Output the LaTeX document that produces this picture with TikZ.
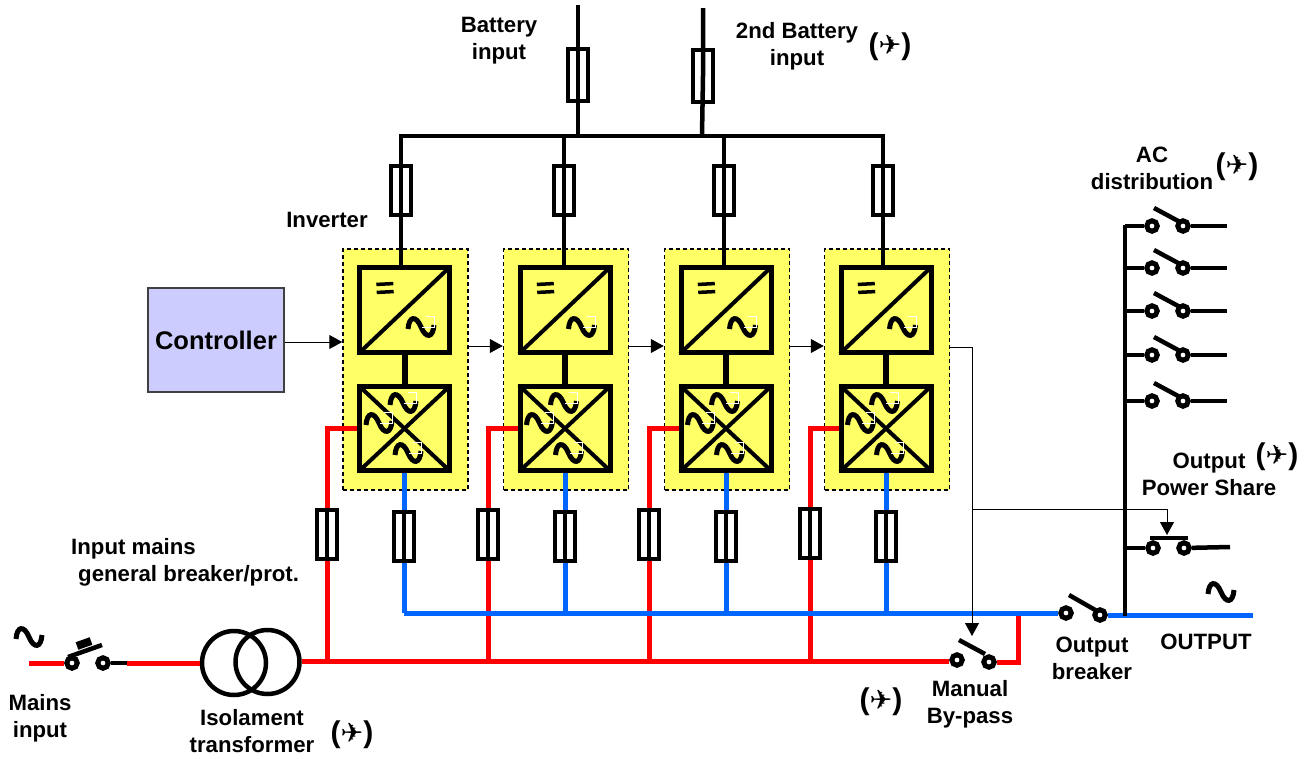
\documentclass[tikz,border=0pt]{standalone}
\usepackage{fontspec}
\setmainfont{Liberation Sans}
\newfontfamily\planefont{DejaVu Sans}
\usetikzlibrary{arrows.meta}
\definecolor{invyellow}{HTML}{FFFF66}
\definecolor{ctrlblue}{HTML}{CCCCFF}
\definecolor{busred}{HTML}{FF0000}
\definecolor{busblue}{HTML}{0066FF}
\newcommand{\planemark}{{\fontsize{30}{30}\selectfont\bfseries(}{\planefont\fontsize{27}{27}\selectfont ✈}{\fontsize{30}{30}\selectfont\bfseries)}}
\tikzset{
  label/.style={font=\fontsize{22.2}{27}\selectfont\bfseries,align=center,inner sep=0pt},
  invbox/.style={draw=black,fill=invyellow,line width=1.5pt,dash pattern=on 4pt off 3pt,minimum width=125pt,minimum height=241pt,inner sep=0pt},
  module/.style={draw=black,line width=5pt,minimum width=90pt,inner sep=0pt},
  fuse/.style={draw=black,line width=4pt,minimum width=20pt,minimum height=49pt,inner sep=0pt},
  contact/.style={circle,draw=black,fill=white,line width=5pt,minimum size=10.5pt,inner sep=0pt},
  wire/.style={line width=4.5pt,color=black},
  redwire/.style={line width=5pt,color=busred},
  bluewire/.style={line width=5pt,color=busblue},
  blade/.style={line width=4.5pt,color=black},
  ctl/.style={line width=1pt,color=black,-{Triangle[length=13pt,width=14pt]}},
  pics/tilde/.style={code={
    \draw[line width=5pt] (-13,2) .. controls (-12,-11) and (-5,-12) .. (0,0) .. controls (5,12) and (12,11) .. (13,-2);
  }},
  pics/inktilde/.style={code={
    \draw[line width=5pt] (-13,2) .. controls (-12,-11) and (-5,-12) .. (0,0) .. controls (5,12) and (12,11) .. (13,-2);
    \draw[white,line width=1pt] (5,-10.5) -- (13.5,-10.5) -- (13.5,0) -- (1,0);
  }}
}
\begin{document}
\begin{tikzpicture}[line join=miter,x=1pt,y=-1pt]
    \useasboundingbox (0,0) rectangle (1307,758);
    \coordinate (redbus) at (0,661);
    \coordinate (bluebus) at (0,613);
    \coordinate (topbus) at (0,136);
    \coordinate (ctlline) at (0,346);
    \coordinate (topl) at (399,136);
    \coordinate (topr) at (885,136);
    \foreach \i/\mx/\dx/\rx/\bx/\fy in {1/404.5/401/327/403/534,2/565/564/488/564/534,3/726/724/649/725/534,4/886/883/810/885/533}
    {
      \node[invbox] (inv\i) at (\mx+1,369.5) {};
      \node[fuse] (tf\i) at (\dx,190) {};
      \node[fuse] (rf\i) at (\rx,\fy) {};
      \node[fuse] (bf\i) at (\bx+1,536) {};
      \coordinate (rtap\i) at (\rx,661);
      \coordinate (btap\i) at (\bx+1,613);
      \coordinate (dtap\i) at (\dx,136);
      \node[module,minimum height=85pt] (up\i) at (\mx,310) {};
      \node[module,minimum height=84pt] (low\i) at (\mx,428.5) {};
      \draw[wire] (dtap\i) -- (tf\i.center) -- (tf\i.center |- up\i.north);
      \draw[line width=6pt] (up\i.south) -- (low\i.north);
      \draw[redwire] (rtap\i) -- (rf\i.south);
      \draw[redwire] (rf\i.north) -- (rf\i.center |- low\i.west) -- (low\i.west);
      \draw[wire] (rf\i.north) -- (rf\i.south);
      \draw[bluewire] (bf\i.center |- low\i.south) -- (bf\i.north);
      \draw[bluewire] (bf\i.south) -- (btap\i);
      \draw[wire] (bf\i.north) -- (bf\i.south);
      \draw[line width=4pt,shorten >=2pt,shorten <=2pt] (up\i.north east) -- (up\i.south west);
      \draw[line width=4pt,shorten >=2pt,shorten <=2pt] (low\i.north east) -- (low\i.south west);
      \draw[line width=4pt,shorten >=2pt,shorten <=2pt] (low\i.north west) -- (low\i.south east);
      \draw[line width=3.5pt,rotate around={3:(\mx-19.5,288)}] (\mx-28,284) -- (\mx-11,284) (\mx-28,292) -- (\mx-11,292);
      \pic at (\mx+16.5,327) {inktilde};
      \pic at (\mx-1.5,403) {inktilde};
      \pic at (\mx-25.5,423) {inktilde};
      \pic at (\mx+3.5,453) {inktilde};
    }
    \draw[wire] (topl) -- (topr);
    \coordinate (bata) at (578,5);
    \coordinate (batb) at (703,8);
    \node[fuse,minimum height=52pt] (baf) at (578,75) {};
    \node[fuse,minimum height=52pt] (bbf) at (703,76) {};
    \draw[wire] (bata) -- (baf.center) -- (578,136);
    \draw[wire] (batb) -- (bbf.center) -- (702,136);
    \node[draw=black!75,fill=ctrlblue,line width=1.5pt,minimum width=136pt,minimum height=104pt,inner sep=0pt,font=\fontsize{25.5}{30}\selectfont\bfseries] (ctrl) at (216,340) {Controller};
    \draw[ctl] (ctrl.east |- 0,342) -- (inv1.west |- 0,342);
    \draw[ctl] (inv1.east |- ctlline) -- (inv2.west |- ctlline);
    \draw[ctl] (inv2.east |- ctlline) -- (inv3.west |- ctlline);
    \draw[ctl] (inv3.east |- ctlline) -- (inv4.west |- ctlline);
    \coordinate (mainin) at (29,663);
    \node[contact] (mil) at (72,663) {};
    \node[contact] (mir) at (103,663) {};
    \coordinate (mist) at (127,663);
    \node[circle,draw=black,line width=4.5pt,minimum size=64pt,inner sep=0pt] (trl) at (234,663) {};
    \node[circle,draw=black,line width=4.5pt,minimum size=64pt,inner sep=0pt] (trr) at (267.5,662) {};
    \draw[redwire] (mainin) -- (mil);
    \draw[wire] (mir) -- (mist);
    \draw[redwire] (mist) -- (trl.west);
    \draw[blade] (68,657) -- (102,645);
    \draw[line width=8pt] (77,646) -- (91,641);
    \node[contact] (byl) at (957,660) {};
    \node[contact] (byr) at (989,662) {};
    \coordinate (bycorner) at (1018,662);
    \coordinate (bytop) at (1018,613);
    \draw[redwire] (trr.east |- redbus) -- (byl.west |- redbus);
    \draw[redwire] (byr) -- (bycorner) -- (bytop);
    \draw[blade] (959,640) -- (985,654);
    \node[contact] (obl) at (1066,613) {};
    \node[contact] (obr) at (1100,615) {};
    \coordinate (outend) at (1253,615);
    \draw[bluewire] (btap1) -- (obl);
    \draw[bluewire] (obr) -- (outend);
    \draw[blade] (1069,595) -- (1097,611);
    \coordinate (actop) at (1125,225);
    \coordinate (acbot) at (1125,616);
    \draw[wire] (actop) -- (acbot);
    \foreach \i/\y in {1/226,2/268,3/311,4/355,5/401}
    {
      \coordinate (ac\i) at (1227,\y);
      \coordinate (acb\i) at (1125,\y);
      \node[contact] (acl\i) at (1152,\y) {};
      \node[contact] (acr\i) at (1183,\y) {};
      \draw[wire] (acb\i) -- (acl\i);
      \draw[wire] (acr\i) -- (ac\i);
      \draw[blade] (1154,\y-18) -- (1180,\y-4);
    }
    \node[contact] (psl) at (1153,548) {};
    \node[contact] (psr) at (1184,548) {};
    \coordinate (psb) at (1125,548);
    \coordinate (pse) at (1230,547);
    \draw[wire] (psb) -- (psl);
    \draw[wire] (psr) -- (pse);
    \draw[blade] (1150,538) -- (1188,538);
    \coordinate (ctlo) at (949,347);
    \coordinate (ctlb) at (972,347);
    \coordinate (ctlj) at (972,509);
    \coordinate (ctlbp) at (972,636);
    \coordinate (ctlps) at (1167,509);
    \coordinate (ctlpse) at (1167,535);
    \draw[ctl] (ctlo) -- (ctlb) -- (ctlbp);
    \draw[ctl] (ctlj) -- (ctlps) -- (ctlpse);
    \pic at (29,637) {tilde};
    \pic at (1221,592) {tilde};
    \node[label] (lbat) at (499,41) {Battery\\input};
    \node[label] (lbat2) at (797,46) {2nd Battery\\input};
    \node[inner sep=0pt] (pl1) at (890,47) {\planemark};
    \node[label] (lac) at (1152,168.5) {AC\\distribution};
    \node[inner sep=0pt] (pl2) at (1237,167) {\planemark};
    \node[label] (linv) at (327,220) {Inverter};
    \node[label,align=left,anchor=north west] (lim) at (71,538) {Input mains\\\hspace*{7pt}general breaker/prot.};
    \node[label] (lmi) at (40,718.5) {Mains\\input};
    \node[label] (lit) at (252,731) {Isolament\\transformer};
    \node[inner sep=0pt] (pl3) at (352,735) {\planemark};
    \node[inner sep=0pt] (pl4) at (881,702) {\planemark};
    \node[label] (lby) at (970,704.5) {Manual\\By-pass};
    \node[label] (lob) at (1092,658.5) {Output\\breaker};
    \node[label] (lout) at (1206,642) {OUTPUT};
    \node[label] (lps) at (1209,474) {Output\\Power Share};
    \node[inner sep=0pt] (pl5) at (1277,457) {\planemark};
\end{tikzpicture}
\end{document}
